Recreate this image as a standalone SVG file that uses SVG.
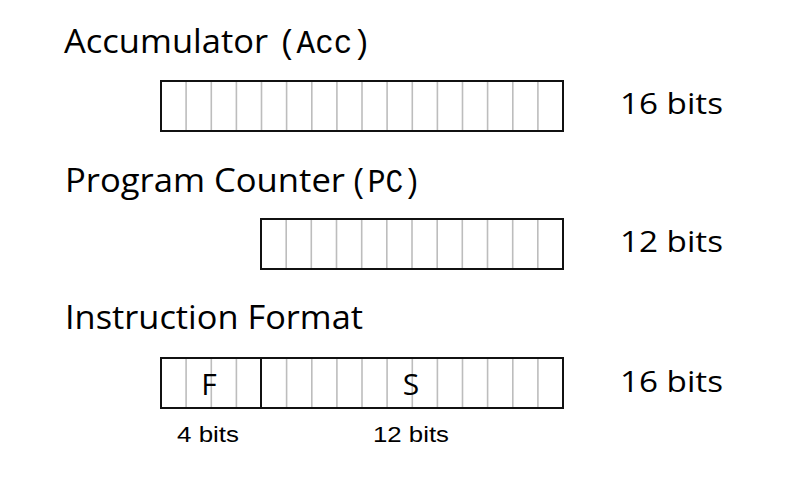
<svg xmlns="http://www.w3.org/2000/svg" width="792" height="482" viewBox="0 0 792 482">
<style>
.title{font-family:"Open Sans","DejaVu Sans",sans-serif;font-size:32px;fill:#000}
.mono{font-family:"Liberation Mono","Courier New","DejaVu Sans Mono",monospace;font-size:33px;fill:#000}
.bits{font-family:"Open Sans","DejaVu Sans",sans-serif;font-size:30px;fill:#000}
.small{font-family:"Liberation Sans",Arial,sans-serif;font-size:22px;fill:#000}
.box{fill:#fff;stroke:#111;stroke-width:2}
.cell{stroke:#bdbdbd;stroke-width:1.6}
.field{font-family:"Open Sans","DejaVu Sans",sans-serif;font-size:30px;fill:#000;text-anchor:middle}
</style>
<rect width="792" height="482" fill="#fff"/>
<g id="acc">
<text class="title" x="64" y="53" textLength="204" lengthAdjust="spacingAndGlyphs">Accumulator</text>
<text class="mono" x="278" y="53" textLength="93" lengthAdjust="spacingAndGlyphs">(Acc)</text>
<rect class="box" x="161" y="81" width="402" height="50"/>
<path class="cell" d="M186.1 82V130M211.3 82V130M236.4 82V130M261.5 82V130M286.6 82V130M311.8 82V130M336.9 82V130M362 82V130M387.1 82V130M412.3 82V130M437.4 82V130M462.5 82V130M487.6 82V130M512.8 82V130M537.9 82V130"/>
<text class="bits" x="620" y="114" textLength="103" lengthAdjust="spacingAndGlyphs">16 bits</text>
</g>
<g id="pc">
<text class="title" x="65" y="192" textLength="280" lengthAdjust="spacingAndGlyphs">Program Counter</text>
<text class="mono" x="350" y="192" textLength="71" lengthAdjust="spacingAndGlyphs">(PC)</text>
<rect class="box" x="261" y="219" width="302" height="50"/>
<path class="cell" d="M286.2 220V268M311.3 220V268M336.5 220V268M361.7 220V268M386.8 220V268M412 220V268M437.2 220V268M462.3 220V268M487.5 220V268M512.7 220V268M537.8 220V268"/>
<text class="bits" x="620" y="252" textLength="103" lengthAdjust="spacingAndGlyphs">12 bits</text>
</g>
<g id="instr">
<text class="title" x="65" y="329" textLength="298" lengthAdjust="spacingAndGlyphs">Instruction Format</text>
<rect class="box" x="161" y="358" width="402" height="50"/>
<path class="cell" d="M186.1 359V407M211.3 359V407M236.4 359V407M286.6 359V407M311.8 359V407M336.9 359V407M362 359V407M387.1 359V407M412.3 359V407M437.4 359V407M462.5 359V407M487.6 359V407M512.8 359V407M537.9 359V407"/>
<line x1="261" y1="358" x2="261" y2="408" stroke="#111" stroke-width="2"/>
<text class="field" x="209" y="395">F</text>
<text class="field" x="411" y="395">S</text>
<text class="bits" x="620" y="392" textLength="103" lengthAdjust="spacingAndGlyphs">16 bits</text>
<text class="small" x="177" y="442" textLength="62" lengthAdjust="spacingAndGlyphs">4 bits</text>
<text class="small" x="373" y="442" textLength="76" lengthAdjust="spacingAndGlyphs">12 bits</text>
</g>
</svg>
